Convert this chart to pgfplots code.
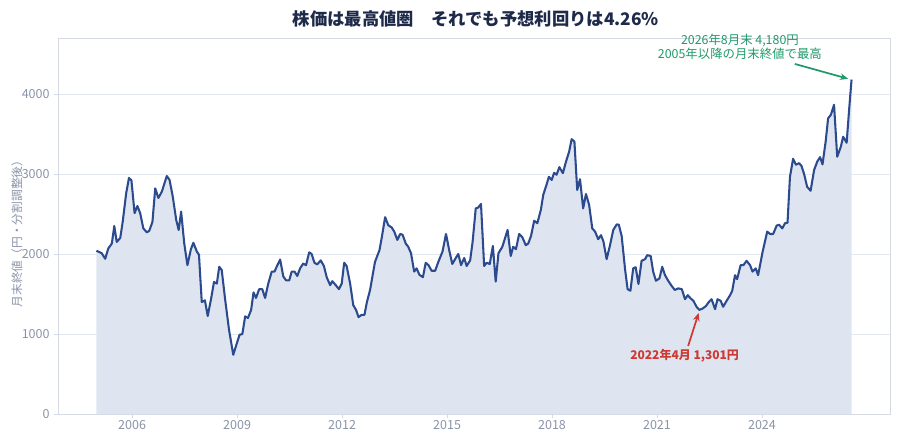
\documentclass[border=0pt]{standalone}
\usepackage{pgfplots}
\pgfplotsset{compat=1.18}
\usepackage{pgfplotstable}
\usepackage{fontspec}
\setmainfont{Noto Sans CJK JP}
\usetikzlibrary{arrows.meta}

\definecolor{titlec}{HTML}{1E2A4A}
\definecolor{tickc}{HTML}{8A94A8}
\definecolor{gridc}{HTML}{E4E8EF}
\definecolor{axisc}{HTML}{D5DAE3}
\definecolor{linec}{HTML}{2C4B8E}
\definecolor{fillc}{HTML}{DFE5F0}
\definecolor{greenc}{HTML}{1F9A6A}
\definecolor{redc}{HTML}{CC3A33}

% month-end close (yen, split adjusted), x = decimal year
\pgfplotstableread{
x y
2004.98 2040
2005.13 2010
2005.23 1940
2005.32 2070
2005.42 2130
2005.49 2350
2005.56 2150
2005.66 2200
2005.73 2400
2005.83 2760
2005.91 2950
2005.98 2920
2006.07 2510
2006.15 2600
2006.23 2510
2006.32 2320
2006.42 2270
2006.49 2290
2006.58 2400
2006.66 2820
2006.75 2700
2006.85 2780
2006.99 2975
2007.07 2925
2007.16 2720
2007.26 2425
2007.33 2300
2007.40 2530
2007.49 2130
2007.58 1860
2007.68 2060
2007.75 2140
2007.85 2030
2007.91 1990
2007.99 1400
2008.08 1420
2008.16 1225
2008.25 1425
2008.34 1650
2008.42 1630
2008.49 1840
2008.56 1800
2008.66 1425
2008.77 1050
2008.89 740
2008.99 880
2009.07 990
2009.15 1000
2009.23 1220
2009.31 1200
2009.40 1300
2009.47 1520
2009.54 1450
2009.63 1560
2009.72 1560
2009.80 1450
2009.89 1630
2009.99 1780
2010.07 1780
2010.13 1840
2010.23 1930
2010.32 1720
2010.40 1670
2010.49 1670
2010.56 1780
2010.64 1780
2010.72 1725
2010.80 1820
2010.89 1880
2010.97 1860
2011.06 2020
2011.13 2000
2011.21 1890
2011.29 1870
2011.39 1920
2011.48 1850
2011.56 1710
2011.66 1610
2011.72 1660
2011.82 1610
2011.91 1560
2011.99 1630
2012.06 1890
2012.13 1850
2012.23 1630
2012.32 1360
2012.40 1300
2012.47 1210
2012.56 1240
2012.64 1240
2012.71 1400
2012.80 1550
2012.94 1900
2013.07 2050
2013.14 2220
2013.23 2460
2013.32 2360
2013.42 2330
2013.49 2280
2013.58 2175
2013.66 2250
2013.73 2240
2013.82 2130
2013.89 2090
2013.97 2010
2014.06 1780
2014.13 1820
2014.21 1740
2014.31 1710
2014.39 1890
2014.47 1860
2014.56 1790
2014.66 1790
2014.75 1900
2014.87 2030
2014.97 2250
2015.07 2030
2015.15 1875
2015.25 1950
2015.32 2000
2015.40 1860
2015.49 1950
2015.56 1850
2015.66 1920
2015.73 2150
2015.82 2570
2015.89 2580
2015.97 2625
2016.06 1850
2016.13 1890
2016.22 1875
2016.31 2100
2016.39 1655
2016.47 2010
2016.58 2090
2016.73 2300
2016.82 1975
2016.89 2090
2016.97 2060
2017.06 2250
2017.15 2210
2017.25 2110
2017.32 2130
2017.40 2225
2017.49 2415
2017.58 2385
2017.68 2550
2017.75 2740
2017.85 2875
2017.91 2965
2017.99 2925
2018.06 3015
2018.13 2990
2018.21 3085
2018.31 3010
2018.40 3155
2018.49 3280
2018.56 3435
2018.64 3405
2018.72 2800
2018.80 2935
2018.89 2570
2018.97 2750
2019.06 2615
2019.15 2320
2019.23 2280
2019.32 2185
2019.40 2235
2019.47 2155
2019.56 1935
2019.66 2115
2019.75 2300
2019.85 2370
2019.91 2365
2019.99 2225
2020.09 1800
2020.16 1560
2020.24 1540
2020.32 1820
2020.39 1835
2020.47 1625
2020.56 1915
2020.66 1935
2020.72 1985
2020.82 1975
2020.89 1780
2020.97 1665
2021.07 1695
2021.15 1840
2021.23 1735
2021.32 1665
2021.42 1600
2021.51 1550
2021.61 1570
2021.71 1560
2021.80 1435
2021.88 1485
2021.96 1445
2022.04 1415
2022.13 1340
2022.21 1301
2022.31 1320
2022.40 1350
2022.49 1405
2022.56 1435
2022.66 1310
2022.73 1435
2022.82 1415
2022.89 1340
2022.99 1415
2023.09 1485
2023.15 1540
2023.23 1735
2023.29 1685
2023.39 1860
2023.47 1860
2023.56 1915
2023.66 1860
2023.73 1780
2023.82 1820
2023.89 1735
2024.02 2030
2024.15 2280
2024.23 2250
2024.32 2250
2024.42 2355
2024.49 2365
2024.58 2320
2024.66 2385
2024.73 2390
2024.80 2965
2024.89 3190
2024.97 3115
2025.06 3135
2025.13 3100
2025.21 2990
2025.29 2840
2025.39 2790
2025.49 3050
2025.58 3155
2025.66 3210
2025.73 3120
2025.82 3405
2025.89 3695
2025.97 3740
2026.06 3865
2026.15 3215
2026.25 3335
2026.32 3465
2026.42 3390
2026.49 3800
2026.56 4180
}\price

\begin{document}
\begin{tikzpicture}
\begin{axis}[
    scale only axis,
    width=623.8pt, height=281.8pt,
    xmin=2003.89, xmax=2027.66,
    ymin=0, ymax=4696,
    xtick={2006,2009,2012,2015,2018,2021,2024},
    ytick={0,1000,2000,3000,4000},
    /pgf/number format/1000 sep={},
    /pgf/number format/assume math mode=true,
    xtick pos=left, ytick pos=left,
    tick align=outside, major tick length=3pt,
    tick style={color=axisc, line width=0.6pt},
    axis line style={draw=axisc, line width=0.6pt},
    ymajorgrids,
    major grid style={color=gridc, line width=0.6pt},
    tick label style={font=\fontsize{9.4pt}{11pt}\selectfont, text=tickc},
    xticklabel style={yshift=1.5pt},
    clip=false,
  ]
  \coordinate (sw) at (rel axis cs:0,0);
  \addplot[draw=none, fill=fillc] table {\price} \closedcycle;
  \addplot[color=linec, line width=1.55pt, line join=round, mark=none] table {\price};

  % title and axis label
  \node[font=\fontsize{13pt}{15pt}\selectfont\bfseries, text=titlec]
    at ([yshift=14.5pt]rel axis cs:0.502,1) {株価は最高値圏　それでも予想利回りは4.26\%};
  \node[rotate=90, font=\fontsize{8.8pt}{10pt}\selectfont, text=tickc]
    at ([xshift=-31pt]rel axis cs:0,0.487) {月末終値（円・分割調整後）};

  % annotations
  \node[font=\fontsize{9.3pt}{10.5pt}\selectfont, text=greenc, align=center]
    at (axis cs:2023.37,4587) {2026年8月末 4,180円\\2005年以降の月末終値で最高};
  \draw[-{Stealth[length=6pt,width=5pt]}, greenc, line width=1.3pt]
    (axis cs:2024.94,4375) -- (axis cs:2026.46,4190);
  \node[font=\fontsize{9pt}{11pt}\selectfont\bfseries, text=redc]
    at (axis cs:2021.79,725) {2022年4月 1,301円};
  \draw[-{Stealth[length=6pt,width=5pt]}, redc, line width=1.3pt]
    (axis cs:2021.89,850) -- (axis cs:2022.19,1262);
\end{axis}
\pgfresetboundingbox
\path (sw) ++(-43.725pt,-21.75pt) rectangle ++(675pt,332.25pt);
\end{tikzpicture}
\end{document}
